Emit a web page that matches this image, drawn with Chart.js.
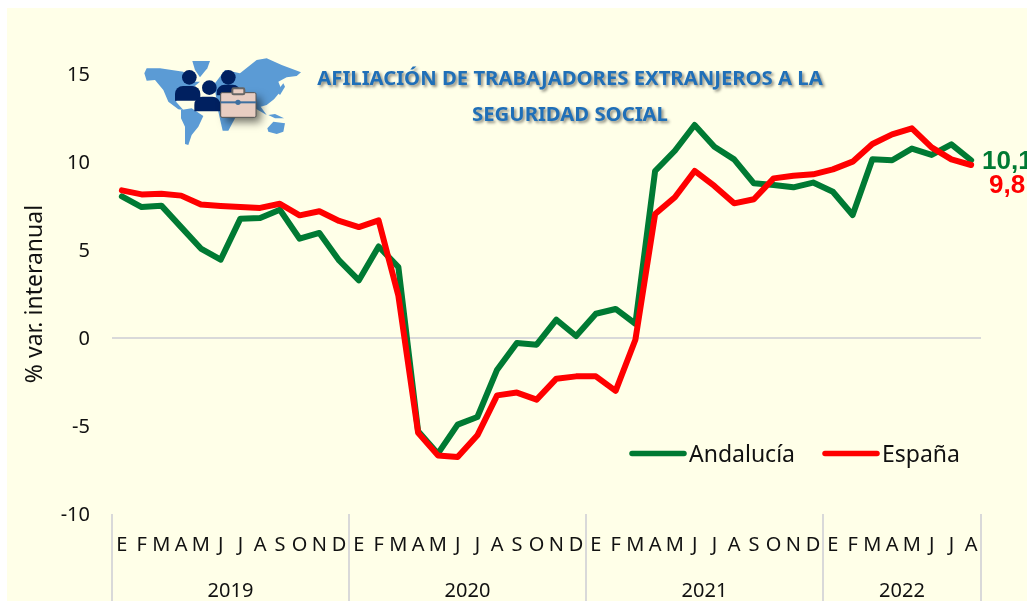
<!DOCTYPE html>
<html><head><meta charset="utf-8">
<style>html,body{margin:0;padding:0;background:#fff;overflow:hidden}canvas{display:block}</style>
<script src="https://cdn.jsdelivr.net/npm/chart.js@4"></script>
</head><body>
<canvas id="c" width="1027" height="601"></canvas>
<script>
const months = ['E','F','M','A','M','J','J','A','S','O','N','D','E','F','M','A','M','J','J','A','S','O','N','D','E','F','M','A','M','J','J','A','S','O','N','D','E','F','M','A','M','J','J','A'];
const years = ['2019','2020','2021','2022'];
const yearFirstIndex = [0,12,24,36,44];
const andalucia = [8.05,7.44,7.52,6.3,5.08,4.45,6.78,6.82,7.29,5.64,5.97,4.41,3.28,5.2,4.03,-5.3,-6.57,-4.92,-4.49,-1.8,-0.28,-0.38,1.04,0.11,1.38,1.65,0.81,9.49,10.64,12.1,10.87,10.15,8.79,8.69,8.56,8.83,8.31,6.99,10.15,10.1,10.76,10.4,11.0,10.1];
const espana = [8.39,8.16,8.2,8.09,7.58,7.5,7.44,7.39,7.63,6.97,7.2,6.65,6.3,6.68,2.4,-5.39,-6.67,-6.76,-5.53,-3.26,-3.1,-3.5,-2.31,-2.18,-2.18,-3.0,-0.1,7.05,8.0,9.49,8.64,7.65,7.88,9.07,9.22,9.3,9.58,10.02,11.02,11.57,11.91,10.83,10.15,9.83];
const endLabels = ['10,1','9,8'];
const titleLines = ['AFILIACIÓN DE TRABAJADORES EXTRANJEROS A LA','SEGURIDAD SOCIAL'];
const yTitle = '% var. interanual';
const GREEN = '#007A33', RED = '#FF0000', BG = '#FFFFE8', TXT = '#111111', RULE = '#D9D9D9';
const FONT = '"Noto Sans"';

function poly(ctx, pts){ctx.beginPath();for(let i=0;i<pts.length;i+=2){i?ctx.lineTo(pts[i],pts[i+1]):ctx.moveTo(pts[i],pts[i+1]);}ctx.closePath();ctx.fill();}
function drawIcon(ctx){
  ctx.save();ctx.translate(100,40);ctx.scale(1/3,1/3);
  ctx.fillStyle='#5B9BD5';
  [[133,100,140,85,180,85,250,95,262,125,300,125,270,150,240,165,228,185,250,210,235,208,205,185,190,150,165,120,140,122],
   [277,63,330,63,322,85,300,112,285,90],
   [243,210,275,205,310,228,295,260,275,285,265,315,255,312,255,260,243,235],
   [345,130,375,90,420,100,470,60,500,55,545,75,603,97,590,108,560,112,535,125,545,150,522,178,500,195,482,200,500,225,470,208,445,185,430,215,400,170,350,165],
   [345,150,355,215,368,272,385,272,405,235,425,195,400,150],
   [502,265,520,245,555,250,550,275,530,282,505,275],
   [505,225,525,222,552,235,525,235],
   [530,155,550,130,555,140,540,165]].forEach(p=>poly(ctx,p));
  ctx.fillStyle='#002060';
  [[268,112],[385,112],[328,143]].forEach(h=>{ctx.beginPath();ctx.arc(h[0],h[1],22,0,Math.PI*2);ctx.fill();});
  [[225,138,76,44],[350,134,72,32],[283,170,78,44]].forEach(b=>{
    ctx.beginPath();ctx.roundRect(b[0],b[1],b[2],b[3],[24,24,0,0]);ctx.fill();
  });
  ctx.save();
  ctx.shadowColor='rgba(0,0,0,.55)';ctx.shadowBlur=9;ctx.shadowOffsetX=5;ctx.shadowOffsetY=5;
  ctx.fillStyle='#E8CDC2';ctx.beginPath();ctx.roundRect(362,158,106,74,4);ctx.fill();
  ctx.restore();
  ctx.strokeStyle='#555';ctx.lineWidth=3;ctx.beginPath();ctx.roundRect(362,158,106,74,4);ctx.stroke();
  ctx.fillStyle='#E8CDC2';ctx.strokeStyle='#666';ctx.lineWidth=6;ctx.beginPath();ctx.roundRect(397,145,36,18,4);ctx.fill();ctx.stroke();
  ctx.fillStyle='#3F6F9F';ctx.fillRect(362,184,106,6);
  ctx.beginPath();ctx.arc(414,187,8,0,Math.PI*2);ctx.fill();
  ctx.restore();
}

const decor = {
  id:'decor',
  beforeDraw(chart){
    const ctx=chart.ctx;
    ctx.save();
    ctx.fillStyle='#fff';ctx.fillRect(0,0,1027,601);
    ctx.fillStyle=BG;ctx.fillRect(7,8,1020,593);
    drawIcon(ctx);
    ctx.font='bold 20.3px '+FONT;ctx.textAlign='center';ctx.textBaseline='middle';
    ctx.fillStyle='#1F6FB8';
    ctx.shadowColor='rgba(0,0,0,.45)';ctx.shadowBlur=3;ctx.shadowOffsetX=2;ctx.shadowOffsetY=2;
    ctx.fillText(titleLines[0],570,79.5);
    ctx.fillText(titleLines[1],570,115.5);
    ctx.restore();
  },
  afterDraw(chart){
    const ctx=chart.ctx, x=chart.scales.x, bottom=chart.chartArea.bottom;
    const step=x.getPixelForValue(1)-x.getPixelForValue(0);
    ctx.save();
    ctx.strokeStyle=RULE;ctx.lineWidth=2;
    yearFirstIndex.forEach(i=>{
      const px=x.getPixelForValue(i)-step/2;
      ctx.beginPath();ctx.moveTo(px,bottom);ctx.lineTo(px,601);ctx.stroke();
    });
    ctx.fillStyle=TXT;ctx.font='20px '+FONT;ctx.textAlign='center';ctx.textBaseline='middle';
    years.forEach((y,k)=>{
      const a=x.getPixelForValue(yearFirstIndex[k])-step/2,b=x.getPixelForValue(yearFirstIndex[k+1])-step/2;
      ctx.fillText(y,(a+b)/2,591);
    });
    ctx.font='bold 26px "Liberation Sans"';ctx.textAlign='left';
    ctx.fillStyle=GREEN;ctx.fillText(endLabels[0],982,162);
    ctx.fillStyle=RED;ctx.fillText(endLabels[1],989,186);
    const items=chart.data.datasets, lx=[630,823];
    ctx.font='23px '+FONT;
    items.forEach((d,k)=>{
      ctx.strokeStyle=d.borderColor;ctx.lineWidth=5.5;ctx.lineCap='round';
      ctx.beginPath();ctx.moveTo(lx[k]+2,453.5);ctx.lineTo(lx[k]+54,453.5);ctx.stroke();
      ctx.fillStyle=TXT;ctx.fillText(d.label,lx[k]+59,455);
    });
    ctx.restore();
  }
};

new Chart(document.getElementById('c'),{
  type:'line',
  data:{labels:months,datasets:[
    {label:'Andalucía',data:andalucia,borderColor:GREEN,backgroundColor:GREEN,borderWidth:6,pointRadius:0,tension:0,order:2,borderCapStyle:'round',borderJoinStyle:'round'},
    {label:'España',data:espana,borderColor:RED,backgroundColor:RED,borderWidth:6,pointRadius:0,tension:0,order:1,borderCapStyle:'round',borderJoinStyle:'round'}
  ]},
  plugins:[decor],
  options:{
    responsive:false,animation:false,
    layout:{padding:{top:74,right:46,left:0,bottom:0}},
    plugins:{legend:{display:false},title:{display:false},tooltip:{enabled:false}},
    scales:{
      x:{type:'category',offset:true,
        afterFit(s){s.height=87;s.paddingLeft=0;s.paddingRight=0;},
        border:{display:false},grid:{display:false},
        ticks:{autoSkip:false,maxRotation:0,minRotation:0,padding:11,color:TXT,font:{family:FONT,size:20}}},
      y:{min:-10,max:15,
        afterFit(s){s.width=112;s.paddingTop=0;s.paddingBottom=0;},
        border:{display:false},
        grid:{drawTicks:false,color:c=>c.tick.value===0?RULE:'transparent',lineWidth:2},
        title:{display:true,text:yTitle,color:TXT,font:{family:FONT,size:23},padding:{top:22,bottom:0}},
        ticks:{stepSize:5,padding:22,labelOffset:1,color:TXT,font:{family:FONT,size:20}}}
    }
  }
});
</script>
</body></html>
